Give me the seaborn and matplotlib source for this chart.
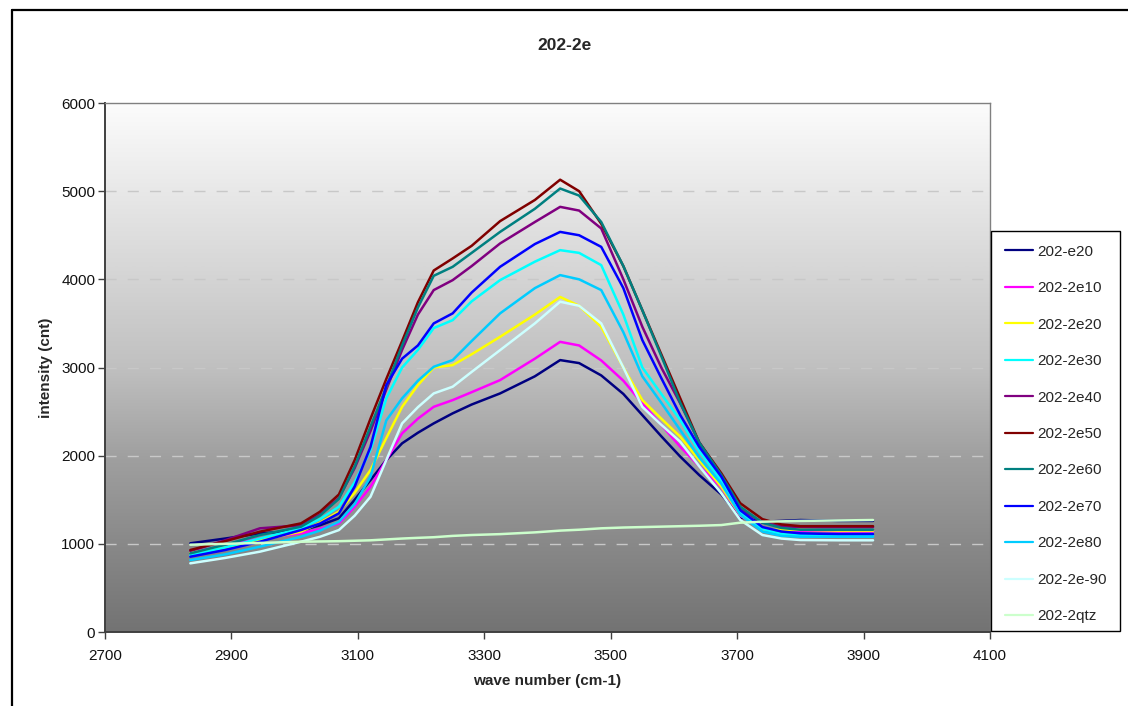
import numpy as np
import pandas as pd
import matplotlib
matplotlib.use("Agg")
import matplotlib.pyplot as plt
from matplotlib.lines import Line2D
from matplotlib.patches import Rectangle
import seaborn as sns

# ---------------- data ----------------
wave = [2835, 2890, 2945, 3010, 3040, 3070, 3095, 3120, 3145, 3170, 3195,
        3220, 3250, 3280, 3325, 3380, 3420, 3450, 3485, 3520, 3550, 3580,
        3610, 3640, 3675, 3705, 3740, 3770, 3800, 3860, 3915]

s_e20  = [1006, 1060, 1119, 1150, 1210, 1290, 1500, 1723, 1950, 2140, 2260,
          2366, 2480, 2580, 2706, 2900, 3084, 3050, 2910, 2700, 2460, 2220,
          1989, 1780, 1560, 1300, 1250, 1260, 1270, 1260, 1260]
s_2e10 = [900, 980, 1060, 1119, 1170, 1232, 1420, 1648, 1950, 2253, 2420,
          2554, 2630, 2720, 2857, 3100, 3291, 3250, 3080, 2850, 2593, 2350,
          2101, 1880, 1640, 1320, 1170, 1150, 1150, 1140, 1140]
s_2e20 = [900, 960, 1043, 1138, 1240, 1365, 1580, 1837, 2200, 2554, 2800,
          3000, 3027, 3150, 3348, 3600, 3800, 3700, 3462, 3000, 2630, 2420,
          2215, 1950, 1648, 1330, 1160, 1160, 1160, 1150, 1150]
s_2e30 = [870, 960, 1060, 1175, 1280, 1421, 1700, 2063, 2650, 3000, 3200,
          3447, 3537, 3750, 3991, 4200, 4331, 4300, 4161, 3600, 3000, 2700,
          2404, 2050, 1720, 1360, 1170, 1110, 1100, 1090, 1090]
s_2e40 = [920, 1040, 1176, 1210, 1330, 1520, 1860, 2280, 2750, 3200, 3600,
          3878, 3991, 4150, 4407, 4650, 4822, 4780, 4577, 4000, 3462, 3000,
          2593, 2150, 1780, 1400, 1240, 1200, 1190, 1190, 1190]
s_2e50 = [930, 1030, 1138, 1232, 1364, 1560, 1950, 2420, 2870, 3300, 3740,
          4100, 4237, 4380, 4660, 4900, 5130, 5000, 4630, 4150, 3650, 3150,
          2650, 2150, 1800, 1460, 1280, 1220, 1200, 1200, 1200]
s_2e60 = [892, 990, 1100, 1194, 1320, 1510, 1880, 2330, 2780, 3250, 3680,
          4040, 4142, 4300, 4538, 4800, 5030, 4950, 4650, 4150, 3650, 3130,
          2600, 2150, 1780, 1420, 1240, 1180, 1160, 1160, 1160]
s_2e70 = [854, 930, 1024, 1156, 1230, 1346, 1650, 2100, 2800, 3100, 3250,
          3500, 3614, 3850, 4142, 4400, 4538, 4500, 4368, 3900, 3311, 2880,
          2460, 2100, 1761, 1380, 1190, 1140, 1119, 1110, 1110]
s_2e80 = [816, 880, 968, 1080, 1150, 1250, 1450, 1761, 2400, 2650, 2850,
          3008, 3084, 3300, 3614, 3900, 4048, 4000, 3878, 3400, 2900, 2600,
          2290, 1980, 1680, 1330, 1140, 1090, 1080, 1080, 1080]
s_2e90 = [779, 840, 911, 1024, 1080, 1156, 1320, 1534, 1950, 2366, 2550,
          2706, 2782, 2950, 3197, 3500, 3746, 3700, 3500, 3000, 2554, 2350,
          2158, 1880, 1573, 1270, 1100, 1060, 1043, 1040, 1040]
s_qtz  = [990, 1000, 1010, 1024, 1027, 1030, 1035, 1040, 1050, 1060, 1068,
          1075, 1090, 1100, 1110, 1130, 1150, 1160, 1176, 1185, 1190, 1195,
          1200, 1205, 1213, 1240, 1251, 1255, 1260, 1265, 1270]

labels = ["202-e20", "202-2e10", "202-2e20", "202-2e30", "202-2e40", "202-2e50",
          "202-2e60", "202-2e70", "202-2e80", "202-2e-90", "202-2qtz"]
series = [s_e20, s_2e10, s_2e20, s_2e30, s_2e40, s_2e50,
          s_2e60, s_2e70, s_2e80, s_2e90, s_qtz]
colors = ["#000080", "#FF00FF", "#FFFF00", "#00FFFF", "#800080", "#800000",
          "#008080", "#0000FF", "#00CCFF", "#CCFFFF", "#CCFFCC"]

x_ticks = [2700, 2900, 3100, 3300, 3500, 3700, 3900, 4100]
y_ticks = [0, 1000, 2000, 3000, 4000, 5000, 6000]

df = pd.concat([pd.DataFrame({"wave": wave, "intensity": s, "series": lab})
                for lab, s in zip(labels, series)], ignore_index=True)

# ---------------- figure ----------------
sns.set_style("white")
plt.rcParams["font.family"] = ["Liberation Sans", "DejaVu Sans"]

W, H = 1128, 706
fig = plt.figure(figsize=(W / 100, H / 100), dpi=100)
fig.patch.set_facecolor("white")
ax = fig.add_axes([105 / W, 74 / H, 885 / W, 529 / H])

# gradient background of the plot area (white at top, grey at bottom)
frac = np.array([0.0, 0.5, 0.667, 0.833, 1.0])
lev = np.array([252, 192, 160, 137, 115]) / 255.0
t = np.linspace(0, 1, 256)
g = np.interp(t, frac, lev)
grad = np.dstack([g, g, g]).reshape(256, 1, 3)
ax.imshow(grad, extent=[2700, 4100, 0, 6000], origin="upper", aspect="auto",
          zorder=0, interpolation="bilinear")

for yv in y_ticks[1:-1]:
    ax.axhline(yv, color="#c8c8c8", lw=1.0, ls=(0, (8, 8)), zorder=1)

sns.lineplot(data=df, x="wave", y="intensity", hue="series", hue_order=labels,
             palette=dict(zip(labels, colors)), sort=False, estimator=None,
             lw=1.8, ax=ax, zorder=3)

ax.set_xlim(2700, 4100)
ax.set_ylim(0, 6000)
ax.set_xticks(x_ticks)
ax.set_yticks(y_ticks)
ax.tick_params(axis="both", direction="out", length=5, width=1, color="#404040",
               labelsize=11, bottom=True, left=True, labelcolor="#111111")
ax.tick_params(axis="x", pad=7)
ax.tick_params(axis="y", pad=2)
for sp in ["top", "right"]:
    ax.spines[sp].set_color("#808080")
    ax.spines[sp].set_linewidth(1.0)
for sp in ["left", "bottom"]:
    ax.spines[sp].set_color("#404040")
    ax.spines[sp].set_linewidth(1.4)

ax.set_xlabel("wave number (cm-1)", fontsize=11, fontweight="bold", labelpad=8)
ax.set_ylabel("intensity (cnt)", fontsize=11, fontweight="bold", labelpad=6)

handles, labs = ax.get_legend_handles_labels()
if ax.get_legend() is not None:
    ax.get_legend().remove()

# legend box
fig.add_artist(Rectangle((990.5 / W, (H - 631) / H), 129 / W, 400 / H,
                         transform=fig.transFigure, facecolor="white",
                         edgecolor="black", lw=1.0, zorder=2))
leg = fig.legend(handles, labs, loc="upper left",
                 bbox_to_anchor=(991 / W, (H - 231) / H),
                 frameon=False, fontsize=11, handlelength=1.85, handletextpad=0.3,
                 labelspacing=1.47, borderpad=0.9, borderaxespad=0.0)
leg.set_zorder(3)
for h in leg.get_lines():
    h.set_linewidth(1.6)

fig.text(565 / W, (H - 45) / H, "202-2e", ha="center", va="center",
         fontsize=12.5, fontweight="bold")

# outer chart border (top and left visible)
fig.add_artist(Line2D([12 / W, 12 / W], [0, (H - 10) / H], color="black", lw=1.6,
                      transform=fig.transFigure))
fig.add_artist(Line2D([12 / W, 1], [(H - 10) / H, (H - 10) / H], color="black", lw=1.6,
                      transform=fig.transFigure))

fig.savefig("out.png", dpi=100)
